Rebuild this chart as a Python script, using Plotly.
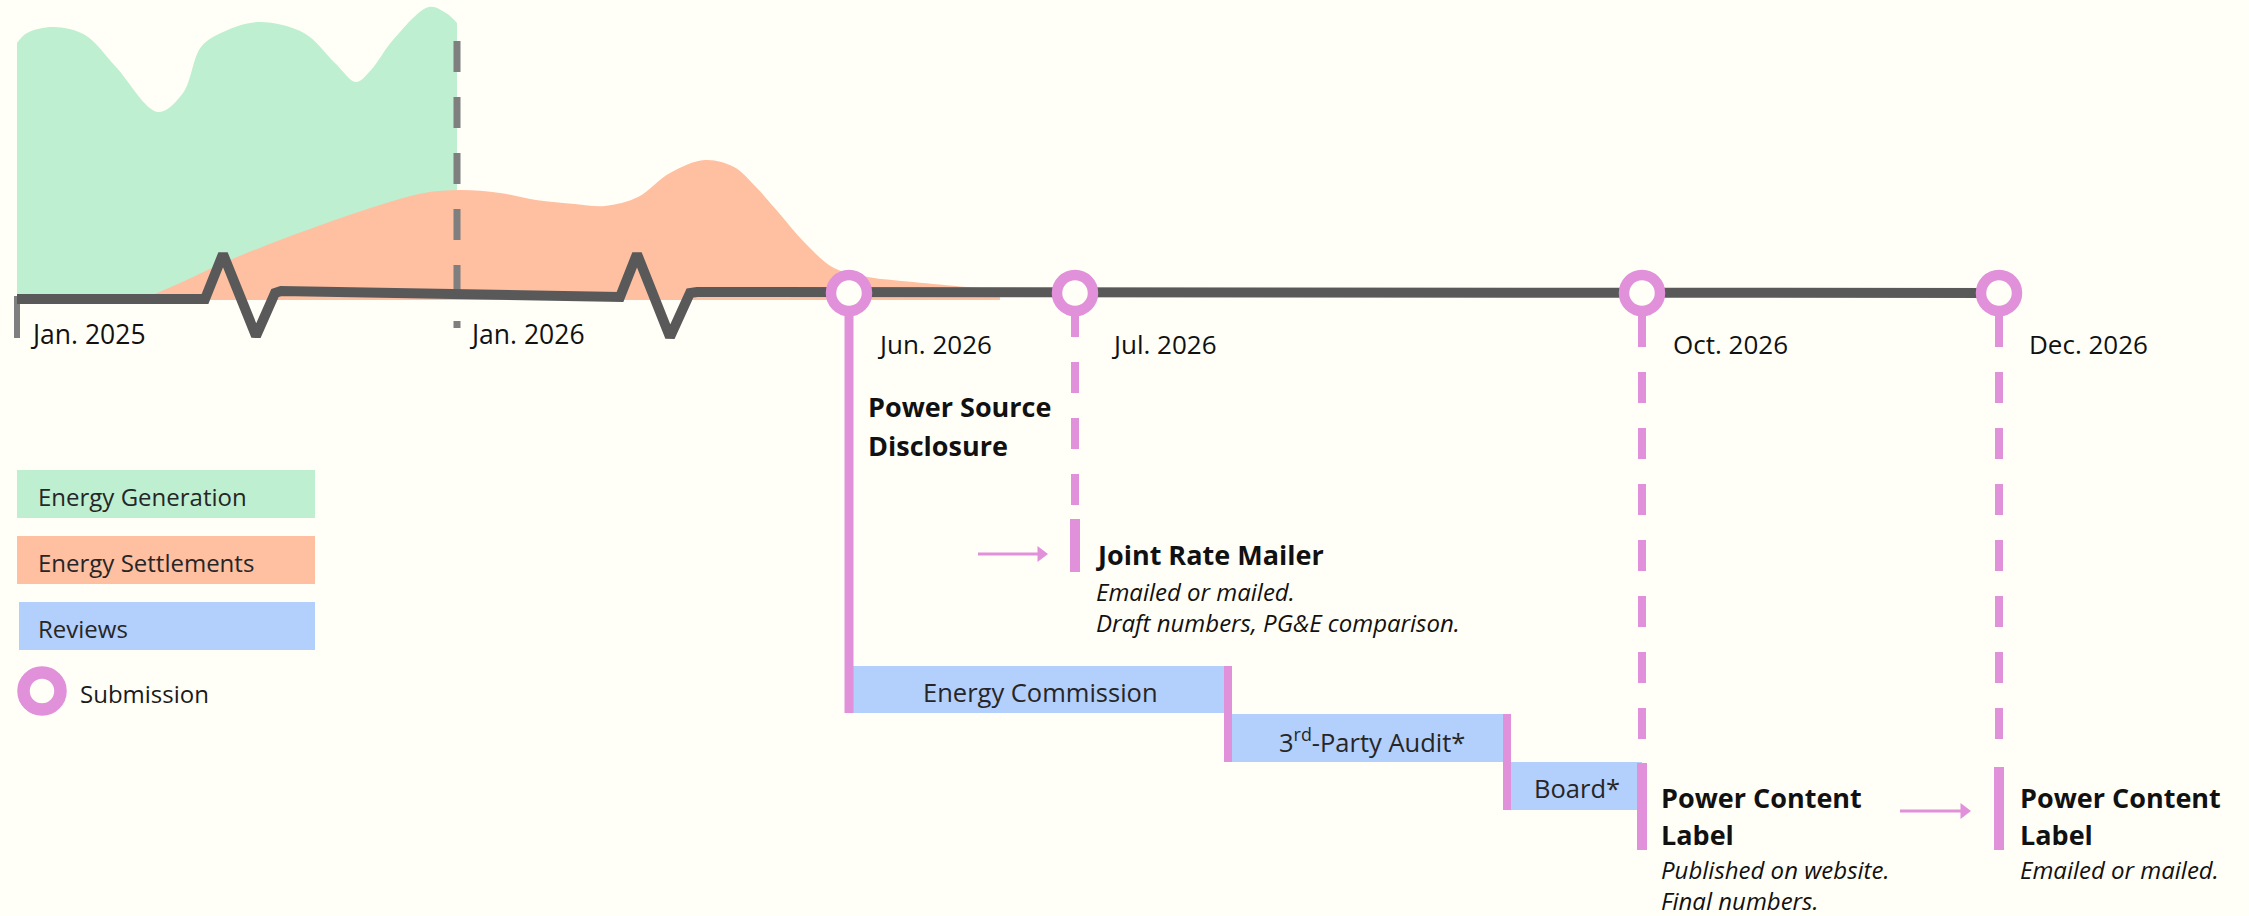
import plotly.graph_objects as go

# ---------------- colours ----------------
BG = "#FFFFF7"
GREEN = "#BFEFD1"
PEACH = "#FFBFA1"
BLUE = "#B3CFFB"
PINK = "#E190DA"
DARK = "#595959"
GRAY = "#7F7F7F"
TXT = "#111111"

# ---------------- data (schematic coordinates) ----------------
# Energy generation profile
gen_x = [17, 27, 54, 85, 116, 158, 183, 201, 223, 259, 304, 335, 356, 371, 393, 429, 446, 457]
gen_y = [43, 33, 27, 35, 67, 112, 93, 47, 32, 22, 33, 63, 82, 70, 40, 7, 13, 23]

# Energy settlements profile
set_x = [143, 180, 223, 280, 335, 380, 424, 460, 500, 536, 575, 605, 638, 670, 705,
         734, 756, 779, 805, 834, 868, 913, 966, 1000]
set_y = [299, 283, 263, 240, 220, 205, 193, 190, 193, 200, 204, 206, 197, 173, 160,
         167, 187, 213, 243, 268, 277, 282, 287, 290]
area_base = 300

# Timeline with break marks
axis_x = [17, 205, 223, 256, 275, 281, 620, 637, 670, 690, 697, 1997]
axis_y = [299, 299, 254, 336, 293, 291, 297, 254, 337, 293, 292, 293]

# Year markers
year_labels = ["Jan. 2025", "Jan. 2026"]
year_x = [17, 457]

# Submission milestones
ms_labels = ["Jun. 2026", "Jul. 2026", "Oct. 2026", "Dec. 2026"]
ms_x = [849, 1075, 1642, 1999]
ms_y = 293
ms_dashed = [False, True, True, True]
ms_drop_start = [300, 306, 316, 316]
ms_drop_end = [713, 505, 739, 739]

# Deliverable bars
deliv_x = [1075, 1642, 1999]
deliv_top = [519, 763, 767]
deliv_bot = [572, 850, 850]

# Hand-off arrows (start, tip, level)
arrow_x0 = [978, 1900]
arrow_x1 = [1048, 1971]
arrow_y = [554, 811]

# Reviews
review_names = ["Energy Commission", "3<sup>rd</sup>-Party Audit*", "Board*"]
review_start = [853, 1228, 1507]
review_end = [1228, 1507, 1642]
review_top = [666, 714, 762]
review_bot = [713, 762, 810]

fig = go.Figure()

# generation area
fig.add_trace(go.Scatter(x=[gen_x[0], gen_x[-1]], y=[area_base, area_base], mode="lines",
                         line=dict(width=0, color=GREEN), hoverinfo="skip", showlegend=False))
fig.add_trace(go.Scatter(x=gen_x, y=gen_y, mode="lines", line=dict(width=0, color=GREEN, shape="spline"),
                         fill="tonexty", fillcolor=GREEN, hoverinfo="skip", showlegend=False))
# settlements area
fig.add_trace(go.Scatter(x=[set_x[0], set_x[-1]], y=[area_base, area_base], mode="lines",
                         line=dict(width=0, color=PEACH), hoverinfo="skip", showlegend=False))
fig.add_trace(go.Scatter(x=set_x, y=set_y, mode="lines", line=dict(width=0, color=PEACH, shape="spline"),
                         fill="tonexty", fillcolor=PEACH, hoverinfo="skip", showlegend=False))

# review bars
for i in range(len(review_names)):
    fig.add_trace(go.Bar(orientation="h", y=[(review_top[i] + review_bot[i]) / 2],
                         x=[review_end[i] - review_start[i]], base=[review_start[i]],
                         width=[review_bot[i] - review_top[i]], marker=dict(color=BLUE, line=dict(width=0)),
                         hoverinfo="skip", showlegend=False))

# year dividers
fig.add_trace(go.Scatter(x=[year_x[0], year_x[0]], y=[296, 338], mode="lines",
                         line=dict(color=GRAY, width=6), hoverinfo="skip", showlegend=False))
fig.add_trace(go.Scatter(x=[year_x[1], year_x[1]], y=[41, 328], mode="lines",
                         line=dict(color=GRAY, width=7, dash="31px,25px"), hoverinfo="skip", showlegend=False))

# timeline
fig.add_trace(go.Scatter(x=axis_x, y=axis_y, mode="lines", line=dict(color=DARK, width=10),
                         hoverinfo="skip", showlegend=False))

# milestone drop lines
for i in range(len(ms_x)):
    fig.add_trace(go.Scatter(x=[ms_x[i], ms_x[i]], y=[ms_drop_start[i], ms_drop_end[i]], mode="lines",
                             line=dict(color=PINK, width=8 if ms_dashed[i] else 9,
                                       dash="31px,25px" if ms_dashed[i] else "solid"),
                             hoverinfo="skip", showlegend=False))
# review separators
for i in range(1, len(review_names)):
    fig.add_trace(go.Scatter(x=[review_start[i], review_start[i]], y=[review_top[i - 1], review_bot[i]],
                             mode="lines", line=dict(color=PINK, width=8), hoverinfo="skip", showlegend=False))
# deliverable bars
for i in range(len(deliv_x)):
    fig.add_trace(go.Scatter(x=[deliv_x[i], deliv_x[i]], y=[deliv_top[i], deliv_bot[i]], mode="lines",
                             line=dict(color=PINK, width=10), hoverinfo="skip", showlegend=False))

# arrows: shaft + head
for i in range(len(arrow_x0)):
    fig.add_trace(go.Scatter(x=[arrow_x0[i], arrow_x1[i] - 10], y=[arrow_y[i], arrow_y[i]], mode="lines",
                             line=dict(color=PINK, width=3), hoverinfo="skip", showlegend=False))
    fig.add_trace(go.Scatter(x=[arrow_x1[i] - 7], y=[arrow_y[i]], mode="markers",
                             marker=dict(symbol="triangle-right", size=14, color=PINK, line=dict(width=0)),
                             hoverinfo="skip", showlegend=False))

# submission rings
fig.add_trace(go.Scatter(x=ms_x, y=[ms_y] * len(ms_x), mode="markers",
                         marker=dict(size=36, color=BG, line=dict(color=PINK, width=10.5)),
                         hoverinfo="skip", showlegend=False))
# legend ring
fig.add_trace(go.Scatter(x=[42], y=[691], mode="markers",
                         marker=dict(size=37, color=BG, line=dict(color=PINK, width=12.5)),
                         hoverinfo="skip", showlegend=False))

ann = []
def txt(x, y, s, size=26, bold=False, italic=False, color=TXT, xanchor="left"):
    if bold:
        s = "<b>" + s + "</b>"
    if italic:
        s = "<i>" + s + "</i>"
    ann.append(dict(x=x, y=y, xref="x", yref="y", text=s, showarrow=False, xanchor=xanchor,
                    yanchor="middle", font=dict(family="Open Sans", size=size, color=color)))

# year labels
txt(28, 334, year_labels[0], 26.5)
txt(467, 334, year_labels[1], 26.5)
# milestone labels
ms_label_x = [875, 1109, 1671, 2027]
for i in range(len(ms_labels)):
    txt(ms_label_x[i], 344, ms_labels[i], 26)

BS = 27
IS = 24
txt(866, 406, "Power Source", BS, bold=True)
txt(866, 445, "Disclosure", BS, bold=True)

txt(1094, 554, "Joint Rate Mailer", BS, bold=True)
txt(1094, 591, "Emailed or mailed.", IS, italic=True)
txt(1094, 622, "Draft numbers, PG&amp;E comparison.", IS, italic=True)

txt(1659, 797, "Power Content", BS, bold=True)
txt(1659, 834, "Label", BS, bold=True)
txt(1659, 869, "Published on website.", IS, italic=True)
txt(1659, 900, "Final numbers.", IS, italic=True)

txt(2018, 797, "Power Content", BS, bold=True)
txt(2018, 834, "Label", BS, bold=True)
txt(2018, 869, "Emailed or mailed.", IS, italic=True)

# review labels
rev_cx = [1040, 1372, 1577]
for i in range(len(review_names)):
    txt(rev_cx[i], (review_top[i] + review_bot[i]) / 2 + 2, review_names[i], 25.5, color="#262626",
        xanchor="center")

# legend
shapes = []
leg = [("Energy Generation", GREEN, 17, 470, 518),
       ("Energy Settlements", PEACH, 17, 536, 584),
       ("Reviews", BLUE, 19, 602, 650)]
for name, col, x0, y0, y1 in leg:
    shapes.append(dict(type="rect", xref="x", yref="y", x0=x0, x1=315, y0=y0, y1=y1,
                       fillcolor=col, line=dict(width=0), layer="below"))
    txt(36, (y0 + y1) / 2 + 2, name, 24, color="#262626")
txt(78, 693, "Submission", 24, color="#1a1a1a")

fig.update_layout(
    width=2249, height=916, margin=dict(l=0, r=0, t=0, b=0),
    paper_bgcolor=BG, plot_bgcolor=BG,
    xaxis=dict(range=[0, 2249], visible=False, fixedrange=True),
    yaxis=dict(range=[916, 0], visible=False, fixedrange=True),
    annotations=ann, shapes=shapes, barmode="overlay", bargap=0,
    font=dict(family="Open Sans"),
)

fig.write_html("out.html", config={"displayModeBar": False},
               post_script="document.body.style.margin='0';document.body.style.overflow='hidden';document.body.style.background='#FFFFF7';")
